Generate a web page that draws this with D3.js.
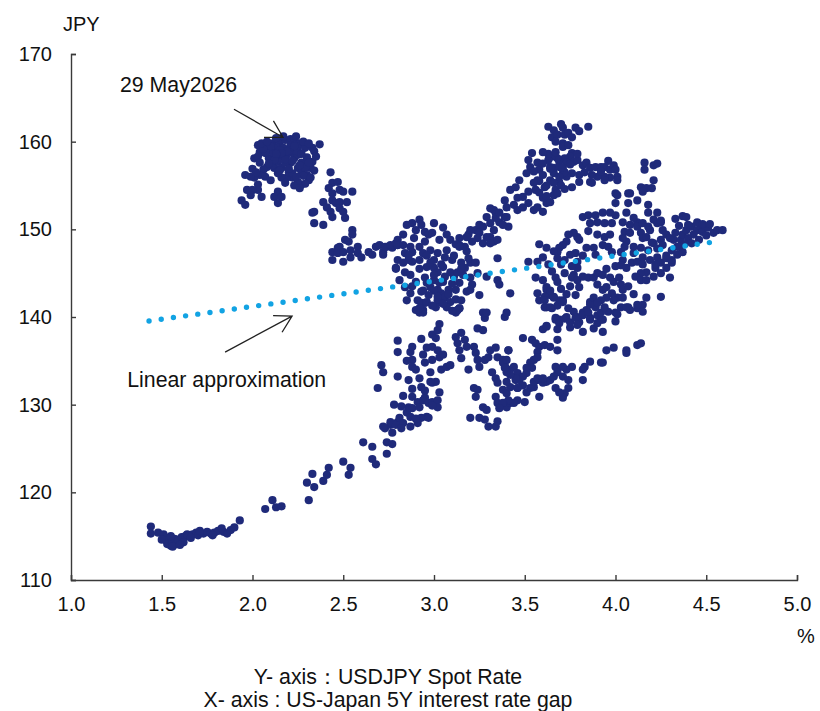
<!DOCTYPE html>
<html>
<head>
<meta charset="utf-8">
<script src="https://cdn.jsdelivr.net/npm/d3@7"></script>
<style>
  body { margin: 0; background: #fff; }
  svg { display: block; }
  text { font-family: Arial, "Liberation Sans", sans-serif; fill: #111; }
</style>
</head>
<body>
<svg id="chart" width="820" height="711"></svg>
<script>
// Axis ticks
const xTicks = [1.0, 1.5, 2.0, 2.5, 3.0, 3.5, 4.0, 4.5, 5.0];
const yTicks = [110, 120, 130, 140, 150, 160, 170];

// Observations: [US-Japan 5Y rate gap (%), USDJPY spot]
const pointsLowerLeft = [
  [1.44,116.1],[1.44,115.3],[1.48,115.4],[1.51,115.2],[1.52,114.6],[1.53,114.1],[1.55,113.9],[1.56,114.3],
  [1.57,114.7],[1.58,114.1],[1.59,114.6],[1.61,114.9],[1.63,115.0],[1.64,115.2],[1.67,115.2],[1.69,115.4],
  [1.70,115.1],[1.73,115.3],[1.75,115.5],[1.77,115.3],[1.79,115.4],[1.81,115.6],[1.84,115.5],[1.86,115.3],
  [1.88,115.7],[1.90,116.0],[1.93,116.8],[1.55,115.0],[1.50,114.6],[1.62,114.3],[1.56,113.8],[1.60,114.0],
  [1.66,114.8],[1.71,115.6],[1.78,115.1],[1.83,115.9],
  [2.07,118.1],[2.11,119.1],[2.13,118.3],[2.16,118.4],[2.30,121.1],[2.33,122.1],[2.34,120.6],[2.31,119.1],
  [2.39,121.3],[2.41,122.0],[2.42,122.8],[2.50,123.5],[2.54,122.8],[2.53,122.0],[2.61,125.7],[2.66,125.2],
  [2.66,123.8],[2.68,123.2],[2.74,124.4],[2.74,125.7],[2.73,127.3],[2.76,127.7],[2.77,126.8],[2.77,125.5],
  [2.80,128.0]
];

const pointsRisingBand = [
  [2.72,127.5],[2.76,128.0],[2.79,127.7],[2.81,128.5],[2.83,127.9],[2.85,129.1],[2.87,128.6],[2.86,129.7],
  [2.88,129.6],[2.91,130.3],[2.92,129.7],[2.94,130.5],[2.88,130.9],[2.88,131.8],[2.93,132.0],[2.92,133.0],
  [2.95,130.8],[2.97,130.2],[2.99,130.3],[3.02,130.5],[3.02,129.7],[2.99,129.9],[2.96,128.6],[2.93,128.5],
  [2.91,127.9],[2.97,128.5],[2.87,127.5],[2.82,127.3],[2.99,132.5],[3.01,132.6],[3.03,131.4],[2.98,132.6],
  [2.69,131.9],[2.71,134.5],[2.72,133.7],[2.80,133.2],[2.80,137.3],[2.80,136.0],[2.87,136.0],[2.88,136.6],
  [2.88,135.1],[2.88,134.3],[2.94,135.7],[2.95,134.8],[2.98,133.7],[2.99,136.6],[2.99,138.0],[3.01,137.6],
  [3.02,138.5],[3.03,139.2],[3.02,136.2],[3.03,135.4],[3.05,135.7],[3.04,134.0],[3.07,134.3],[3.09,134.5],
  [2.99,135.1],[2.92,140.5],[2.94,140.8],[2.95,141.6],[3.02,141.9],[3.12,137.7],[3.13,137.0],[3.15,138.2],
  [3.17,137.4],[3.18,136.6],[3.14,136.2],[3.15,135.3],[3.19,134.0],[3.22,136.6],[3.23,135.9],[3.24,135.1],
  [3.13,140.8],[3.14,141.0],[3.12,140.5],[3.27,140.5],[3.28,139.9],[3.24,138.7],[3.27,138.5],[3.39,140.0],
  [3.25,134.3],[3.28,135.1],[3.30,135.4],[3.31,136.2],[3.34,136.5],[3.35,135.4],[3.38,135.1],[3.39,134.5],
  [3.41,136.2],[3.42,134.0],[3.44,134.3],[3.46,133.6],[3.32,133.7],[3.34,133.0],[3.35,132.5],[3.38,131.7],
  [3.40,131.3],[3.42,132.0],[3.46,131.9],[3.40,132.6],[3.45,132.8],[3.22,131.9],[3.24,131.7],[3.23,130.9],
  [3.34,130.9],[3.35,130.2],[3.38,130.0],[3.40,129.7],[3.42,130.2],[3.27,129.7],[3.29,129.4],[3.20,128.5],
  [3.25,128.5],[3.28,128.3],[3.34,127.5],[3.35,128.1],[3.30,127.5],
  [2.83,131.0],[2.86,132.8],[2.90,134.0],[2.93,137.5],[2.96,136.5],[2.85,135.0],[2.78,130.0],[2.82,129.8],
  [2.90,128.4],[2.95,131.6]
];

const pointsUpperLeft = [
  [2.03,159.6],[2.04,158.8],[2.09,159.4],[2.11,159.8],[2.15,160.0],[2.18,160.2],[2.21,160.3],[2.23,160.2],
  [2.26,159.8],[2.29,159.3],[2.33,159.3],[2.37,159.7],[2.33,157.7],[2.32,157.0],[2.30,156.2],[2.31,155.6],
  [2.27,155.1],[2.25,155.4],[2.22,155.9],[2.19,155.9],[2.16,155.9],[2.14,156.4],[2.12,157.0],[2.11,157.3],
  [2.08,157.1],[2.06,156.8],[2.04,156.2],[2.01,155.9],[1.99,156.0],[1.96,156.2],[2.03,155.1],[2.03,154.5],
  [2.00,154.5],[1.99,153.9],[1.97,154.5],[1.94,153.3],[1.96,152.8],[2.05,153.7],[2.12,153.7],[2.14,154.3],
  [2.16,153.7],[2.14,153.0],[2.22,158.8],[2.19,158.5],[2.16,158.3],[2.14,157.7],[2.21,157.6],[2.23,158.1],
  [2.25,158.5],[2.27,157.6],[2.25,157.0],[2.20,156.5],[2.22,156.4],[2.27,156.5],[2.29,157.0],[2.16,157.0],
  [2.18,157.6],[2.12,158.3],[2.09,158.1],[2.11,158.8],[2.14,159.3],[2.17,159.3],[2.21,159.6],[2.25,159.4],
  [2.07,158.7],[2.01,158.1],[2.03,158.3],[2.10,159.5],[2.15,159.0],[2.20,159.0],[2.25,158.9],[2.18,158.0],
  [2.22,157.8],[2.26,157.3],[2.30,158.2],[2.12,157.9],[2.06,159.2],[2.34,158.9],[2.28,156.1],[2.20,156.9],
  [2.15,156.7],[2.24,156.0],[2.32,155.9],
  [2.05,159.8],[2.08,160.0],[2.13,160.4],[2.17,160.6],[2.24,160.6],[2.28,160.0],[2.31,159.8],[2.35,158.3],
  [2.31,157.6],[2.27,158.6],[2.23,159.5],[2.19,158.9],[2.16,158.7],[2.13,158.6],[2.09,157.5],[2.04,157.6],
  [2.00,156.9],[2.02,156.5],[2.07,156.0],[2.10,155.6],[2.18,155.3],[2.23,155.0],[2.29,155.2],[2.34,156.7],
  [2.26,154.7],
  [2.43,156.5],[2.44,155.3],[2.47,155.4],[2.42,154.7],[2.44,154.1],[2.48,154.5],[2.50,154.3],[2.55,154.3],
  [2.39,153.1],[2.41,152.5],[2.44,153.3],[2.46,153.0],[2.48,153.1],[2.52,153.1],[2.43,152.0],[2.44,151.4],
  [2.48,152.4],[2.50,152.0],[2.51,151.3],[2.33,151.9],[2.34,152.0],[2.34,150.7],[2.39,150.5],
  [2.55,149.9],[2.55,149.4],[2.51,148.8],[2.53,148.6],[2.47,147.9],[2.48,148.0],[2.44,147.4],[2.44,146.5],
  [2.47,147.3],[2.50,147.4],[2.54,147.6],[2.58,148.0],[2.58,147.3],[2.54,146.8],[2.50,146.3],[2.60,146.8],
  [2.64,147.4],[2.66,147.1],[2.68,148.0],[2.70,148.2],[2.72,147.4],[2.74,148.0],[2.77,147.9],[2.80,148.2],
  [2.80,148.8],[2.80,146.5],[2.79,145.6]
];

const pointsMidCluster = [
  [2.73,148.0],[2.76,148.2],[2.79,148.4],[2.80,148.2],[2.72,147.1],[2.83,149.4],[2.85,150.5],[2.88,150.7],
  [2.90,149.9],[2.92,151.1],[2.93,150.5],[2.95,149.7],[2.97,149.4],[2.99,149.6],[3.00,150.7],[3.05,150.2],
  [3.07,149.4],[3.09,148.8],[3.14,148.2],[3.14,149.0],[3.19,149.4],[3.23,149.9],[3.25,150.5],[3.29,151.4],
  [3.34,151.9],[3.36,150.8],[3.39,151.4],[3.41,150.3],[3.31,149.1],[3.33,148.6],[3.27,148.4],[3.35,146.7],
  [2.83,148.2],[2.84,147.3],[2.87,148.0],[2.88,147.4],[2.92,148.0],[2.94,147.3],[2.98,147.6],[3.00,146.5],
  [2.92,146.5],[2.88,146.3],[2.86,146.5],[2.83,146.2],[2.79,145.5],[2.84,145.1],[2.87,144.8],[2.81,144.2],
  [2.84,143.4],[2.87,142.7],[2.85,141.9],[2.91,141.9],[2.93,141.6],[2.96,141.7],[2.94,140.5],[2.92,141.0],
  [2.96,145.7],[3.00,145.6],[3.02,145.1],[3.05,145.7],[3.06,144.6],[3.09,145.1],[3.11,144.6],[3.13,145.1],
  [3.16,144.8],[3.17,145.6],[3.15,146.2],[3.20,146.2],[3.19,146.7],[3.24,145.0],[3.14,143.9],[3.12,143.1],
  [3.08,143.1],[3.04,142.7],[3.02,143.1],[2.98,143.4],[2.96,143.9],[3.00,144.2],[3.03,143.9],[3.06,142.2],
  [3.09,141.7],[3.03,141.7],[3.01,141.1],[3.07,141.1],[3.14,141.0],[3.13,140.8],[3.25,142.5],[3.29,140.5],
  [3.40,140.5],[3.29,144.6],[3.35,144.2],[3.21,143.7],[3.18,142.9],[3.42,142.7],[3.36,143.7],[3.20,143.1],
  [2.90,144.0],[2.95,144.5],[3.00,144.8],[3.05,144.0],[3.10,143.8],[3.00,143.0],[2.97,142.5],[3.02,142.3],
  [3.08,142.6],[3.12,142.0],[2.92,145.5],[2.98,146.2],[3.04,146.0],[3.10,146.5],[3.15,145.5],[3.20,144.5],
  [2.88,143.5],[2.93,142.9],[3.05,141.5],[3.15,141.9],
  [2.96,147.0],[3.02,147.3],[3.07,147.6],[3.11,147.0],[2.94,143.0],[2.99,141.3],[3.10,140.7],[2.90,140.8],
  [3.06,146.8],[3.12,148.3],[2.89,149.0],[2.95,148.6],[3.03,148.8],[2.86,147.0],[3.18,147.5],[3.23,146.2]
];

const pointsUpperMid = [
  [3.39,153.3],[3.42,154.5],[3.45,154.8],[3.47,155.6],[3.51,156.4],[3.53,157.1],[3.52,157.9],[3.54,158.7],
  [3.57,157.6],[3.58,156.8],[3.57,155.6],[3.56,154.5],[3.52,154.3],[3.49,153.7],[3.46,153.6],[3.44,152.8],
  [3.46,152.2],[3.49,152.5],[3.52,153.0],[3.55,152.2],[3.57,152.5],[3.60,152.0],[3.62,153.0],[3.60,153.6],
  [3.61,154.8],[3.64,155.6],[3.66,156.4],[3.67,154.5],[3.66,153.9],[3.68,154.1],[3.64,153.1],[3.33,152.2],
  [3.34,151.3],[3.31,152.4],[3.36,151.9],[3.40,152.5],[3.40,151.4],[3.38,150.5],[3.31,150.7],[3.27,150.3],
  [3.25,149.6],[3.24,149.0],[3.29,149.1],[3.33,149.9],[3.35,148.8],[3.31,148.4],[3.20,149.9],[3.21,148.6],
  [3.17,148.0],[3.14,148.0],[3.18,149.1],
  [3.63,161.7],[3.66,161.3],[3.65,160.5],[3.68,160.8],[3.71,161.6],[3.72,160.8],[3.74,161.0],[3.78,161.6],
  [3.76,160.5],[3.85,161.7],[3.71,159.8],[3.71,159.4],[3.76,158.7],[3.75,158.3],[3.72,158.1],[3.69,157.7],
  [3.68,158.1],[3.65,158.3],[3.63,157.9],[3.64,157.1],[3.66,157.0],[3.69,157.1],[3.73,157.6],[3.77,157.7],
  [3.79,157.9],[3.82,157.3],[3.84,157.6],[3.86,157.0],[3.89,157.1],[3.92,157.1],[3.94,157.1],[3.97,156.8],
  [3.99,157.3],[4.00,156.8],[4.01,156.0],[3.97,155.9],[3.94,156.0],[3.90,156.0],[3.87,156.2],[3.86,155.4],
  [3.80,156.2],[3.76,156.4],[3.73,156.0],[3.71,156.4],[3.69,155.4],[3.76,154.8],[3.72,156.5],
  [3.58,155.5],[3.60,156.2],[3.62,155.0],[3.64,156.9],[3.66,155.3],[3.69,156.0],[3.70,155.0],[3.72,154.6],
  [3.62,153.8],[3.58,154.2],[3.55,155.3],[3.60,157.5],[3.63,158.6],[3.67,158.8],[3.71,157.0],
  [3.55,156.6],[3.60,158.8],[3.74,159.6],[3.79,158.6],[3.83,156.5],[3.92,156.6],[3.96,157.8],[3.67,160.0],
  [3.70,162.0],[3.80,161.2],[3.75,157.4]
];

const pointsRightCluster = [
  [3.80,155.4],[3.87,155.3],[3.94,155.6],[4.01,155.6],[4.00,154.1],[4.08,154.1],[4.14,154.8],[4.17,154.7],
  [4.21,155.6],[4.00,153.0],[4.07,153.0],[4.12,153.3],[4.18,152.8],[4.06,151.9],[4.04,150.8],[4.08,150.5],
  [4.12,150.8],[4.23,151.9],[4.37,151.5],[4.16,157.6],[4.21,157.3],[4.23,157.5],[4.16,156.8],[4.20,154.7],
  [4.15,154.3],[4.07,154.1],[4.01,153.9],
  [3.82,151.4],[3.85,151.6],[3.89,151.6],[3.93,151.9],[3.97,151.9],[4.00,151.6],[3.86,150.7],[3.90,150.8],
  [3.94,150.7],[3.98,150.7],[3.97,149.4],[3.94,149.1],[3.93,148.2],[3.96,148.0],[3.98,147.4],[3.88,147.9],
  [3.89,147.1],[3.84,147.9],[3.80,148.8],[3.79,149.1],[3.77,149.6],[3.74,149.4],[3.73,148.6],[3.71,148.2],
  [3.69,147.9],[3.68,147.4],[3.68,146.7],[3.72,146.5],[3.75,147.1],[3.78,147.3],[3.79,146.3],[3.79,145.6],
  [3.77,144.8],[3.76,144.5],[3.79,144.2],[3.82,144.6],[3.85,144.5],[3.88,144.5],[3.90,145.0],[3.93,144.8],
  [3.97,144.5],[3.90,143.7],[3.93,143.1],[3.95,143.4],[3.99,144.0],[4.03,143.7],[4.04,143.1],[3.98,142.7],
  [4.01,142.2],[4.04,142.2],[4.07,141.1],[4.12,141.0],[4.15,141.4],[4.03,141.1],[3.95,142.2],[3.92,141.9],
  [3.88,142.2],[3.86,141.7],[3.89,141.1],[3.84,140.8],[3.82,140.5],[3.79,140.0],[3.77,140.6],[3.73,140.0],
  [3.80,139.4],[3.86,139.9],[3.90,140.2],[3.92,139.7],[3.69,139.7],[3.67,139.9],[3.62,138.9],[3.62,143.1],
  [3.64,142.5],[3.66,142.2],[3.62,141.1],[3.60,144.2],[3.71,141.9],
  [3.52,146.3],[3.57,146.3],[3.56,144.5],[3.62,143.4],[3.57,142.7],[3.58,141.9],[3.61,141.1],[3.65,141.0],
  [3.69,141.9],[3.66,142.3],[3.67,144.5],
  [3.60,146.8],[3.63,146.0],[3.65,145.2],[3.68,144.0],[3.70,143.2],[3.73,142.6],[3.75,143.5],[3.72,145.0],
  [3.70,146.0],[3.66,147.5],[3.62,147.9],[3.58,148.3],[3.64,143.0],[3.61,142.3],[3.68,141.3],[3.74,141.0],
  [3.78,142.5],[3.80,143.4],[3.76,145.8],
  [4.05,149.7],[4.08,149.6],[4.12,150.3],[4.14,149.6],[4.15,149.0],[4.17,149.1],[4.19,149.9],[4.23,150.7],
  [4.25,150.8],[4.21,151.1],[4.15,150.7],[4.10,151.3],[4.18,151.9],[4.26,149.9],[4.28,149.4],[4.25,148.8],
  [4.21,148.4],[4.18,147.6],[4.14,147.9],[4.10,148.0],[4.06,148.6],[4.04,149.0],[4.03,147.4],[4.04,146.5],
  [4.03,145.9],[4.06,145.6],[4.09,146.2],[4.12,146.3],[4.15,146.8],[4.19,146.5],[4.23,146.8],[4.25,146.2],
  [4.22,145.6],[4.17,145.1],[4.14,145.0],[4.11,144.6],[4.14,144.2],[4.17,144.2],[4.21,144.6],[4.25,145.0],
  [4.28,145.6],[4.31,146.2],[4.28,146.7],[4.31,146.5],[4.31,147.6],[4.34,148.0],[4.32,148.8],[4.36,148.8],
  [4.37,149.4],[4.39,149.9],[4.42,150.3],[4.45,149.9],[4.47,150.3],[4.48,149.7],[4.51,150.2],[4.54,149.6],
  [4.56,149.9],[4.59,149.9],[4.43,149.4],[4.40,149.0],[4.34,147.1],[4.37,147.4],[4.42,148.4],[4.46,148.8],
  [4.30,144.5],[4.25,142.3],[4.17,142.2],[4.08,140.8],[4.35,148.0],
  [4.20,148.5],[4.23,147.8],[4.26,148.2],[4.30,149.0],[4.33,149.6],[4.28,147.0],[4.22,146.0],[4.15,146.0],
  [4.10,147.3],[4.05,148.0],[4.18,150.3],[4.25,151.0],[4.35,150.4],[4.40,150.5],[4.45,150.8],[4.50,149.3],
  [4.38,148.3],[4.48,150.6],
  [3.85,149.8],[3.90,149.4],[3.82,147.0],[3.95,145.5],[4.00,145.8],[4.02,144.5],[4.07,143.5],[4.10,142.6],
  [4.00,139.5],[3.96,140.6],[3.75,138.8],[4.39,151.4],[4.52,150.6],[4.33,151.2]
];

const pointsLowerRight = [
  [3.60,138.6],[3.62,139.0],[3.67,139.7],[3.69,139.3],[3.68,138.6],[3.72,139.8],[3.75,139.4],[3.78,139.9],
  [3.79,139.1],[3.82,138.3],[3.82,140.2],[3.85,140.5],[3.86,139.7],[3.88,138.7],[3.90,139.3],[3.93,138.3],
  [3.93,139.7],[3.92,140.5],[3.86,141.4],[3.90,141.6],[3.94,141.1],[4.00,140.5],[4.01,140.3],[4.06,141.1],
  [4.12,141.4],[4.15,140.6],[3.64,141.1],[3.61,141.9],[3.71,141.7],[3.99,141.9],
  [3.95,136.2],[3.99,136.5],[4.06,136.2],[4.06,135.9],[4.12,136.8],[4.14,137.0],[3.92,134.8],[3.93,134.8],
  [3.86,134.9],[3.83,134.3],[3.82,134.0],[3.82,132.8],[3.76,134.3],[3.73,134.0],[3.71,134.3],[3.67,134.3],
  [3.68,133.7],[3.71,133.2],[3.74,132.8],[3.74,131.9],[3.72,131.3],[3.71,130.8],[3.69,131.4],[3.67,131.9],
  [3.64,132.8],[3.62,132.6],[3.60,132.5],[3.57,132.8],[3.58,130.9],[3.55,132.0],[3.53,131.9],[3.51,131.4],
  [3.50,130.3],[3.46,130.5],[3.44,130.2],[3.41,130.5],[3.38,130.2],[3.36,129.6],
  [3.49,137.6],[3.54,137.4],[3.56,137.0],[3.58,136.6],[3.61,136.8],[3.64,136.6],[3.68,137.4],[3.68,136.2],
  [3.57,136.0],[3.57,135.4],[3.55,135.1],[3.53,134.8],[3.54,134.2],[3.51,134.2],[3.51,133.6],[3.49,133.2],
  [3.47,132.8],[3.45,133.0],[3.42,133.4],[3.40,133.7],[3.38,134.8],[3.40,135.1],[3.41,136.2],[3.39,134.2],
  [3.49,132.2],[3.46,131.9],[3.55,132.6],[3.57,133.0],[3.60,133.0],[3.66,133.2]
];

// Linear approximation endpoints
const fitLine = [[1.43, 139.55], [4.54, 148.55]];

// Annotation anchors in data units
const noteLatest = { text: "29 May2026", at: [1.27, 165.7], from: [1.898, 163.7], to: [2.168, 160.5] };
const noteFit = { text: "Linear approximation", at: [1.31, 132.0], from: [1.849, 136.0], to: [2.218, 140.1] };

const svg = d3.select("#chart");
const x = d3.scaleLinear().domain([1, 5]).range([71, 797]);
const y = d3.scaleLinear().domain([110, 170]).range([580, 54]);

const navy = "#1f2a7a";
const sky = "#12a3e3";
const axisColor = "#3a3a3a";
const tickFont = 20;
const noteFont = 21.3;

// Scatter points
const allPoints = [].concat(pointsLowerLeft, pointsRisingBand, pointsUpperLeft,
  pointsMidCluster, pointsUpperMid, pointsRightCluster, pointsLowerRight);

svg.append("g").selectAll("circle")
  .data(allPoints)
  .join("circle")
  .attr("cx", d => x(d[0]))
  .attr("cy", d => y(d[1]))
  .attr("r", 4.1)
  .attr("fill", navy);

// Dotted fit line
svg.append("path")
  .datum(fitLine)
  .attr("d", d3.line().x(d => x(d[0])).y(d => y(d[1])))
  .attr("fill", "none")
  .attr("stroke", sky)
  .attr("stroke-width", 5.4)
  .attr("stroke-linecap", "round")
  .attr("stroke-dasharray", "0,12.3");

// Axes
const xAxis = d3.axisBottom(x).tickValues(xTicks).tickFormat(d3.format(".1f"))
  .tickSize(-5).tickPadding(17);
const yAxis = d3.axisLeft(y).tickValues(yTicks).tickFormat(d3.format("d"))
  .tickSize(-5).tickPadding(19);

const gx = svg.append("g").attr("transform", `translate(0,${y(110)})`).call(xAxis);
const gy = svg.append("g").attr("transform", `translate(${x(1)},0)`).call(yAxis);

[gx, gy].forEach(g => {
  g.select(".domain").attr("stroke", axisColor).attr("stroke-width", 1.4);
  g.selectAll(".tick line").attr("stroke", axisColor).attr("stroke-width", 1.4);
  g.selectAll(".tick text").attr("font-size", tickFont).attr("fill", "#111")
    .attr("font-family", "Arial, 'Liberation Sans', sans-serif");
});

// Unit labels
svg.append("text").attr("x", 63).attr("y", 31).attr("font-size", tickFont).text("JPY");
svg.append("text").attr("x", 797).attr("y", 643).attr("font-size", tickFont).text("%");

// Annotations with open arrowheads
function arrow(note) {
  const x0 = x(note.from[0]), y0 = y(note.from[1]);
  const x1 = x(note.to[0]), y1 = y(note.to[1]);
  const ang = Math.atan2(y1 - y0, x1 - x0);
  const len = 19, spread = Math.PI / 6;
  const w1 = [x1 - len * Math.cos(ang - spread), y1 - len * Math.sin(ang - spread)];
  const w2 = [x1 - len * Math.cos(ang + spread), y1 - len * Math.sin(ang + spread)];
  svg.append("path")
    .attr("d", `M${x0},${y0}L${x1},${y1}M${w1[0]},${w1[1]}L${x1},${y1}L${w2[0]},${w2[1]}`)
    .attr("fill", "none").attr("stroke", "#222").attr("stroke-width", 1.3);
  svg.append("text").attr("x", x(note.at[0])).attr("y", y(note.at[1]))
    .attr("font-size", noteFont).text(note.text);
}
arrow(noteLatest);
arrow(noteFit);

// Axis descriptions
svg.append("text").attr("x", 388).attr("y", 684).attr("text-anchor", "middle")
  .attr("font-size", noteFont).text("Y- axis：USDJPY Spot Rate");
svg.append("text").attr("x", 388).attr("y", 707).attr("text-anchor", "middle")
  .attr("font-size", noteFont).text("X- axis : US-Japan 5Y interest rate gap");
</script>
</body>
</html>
